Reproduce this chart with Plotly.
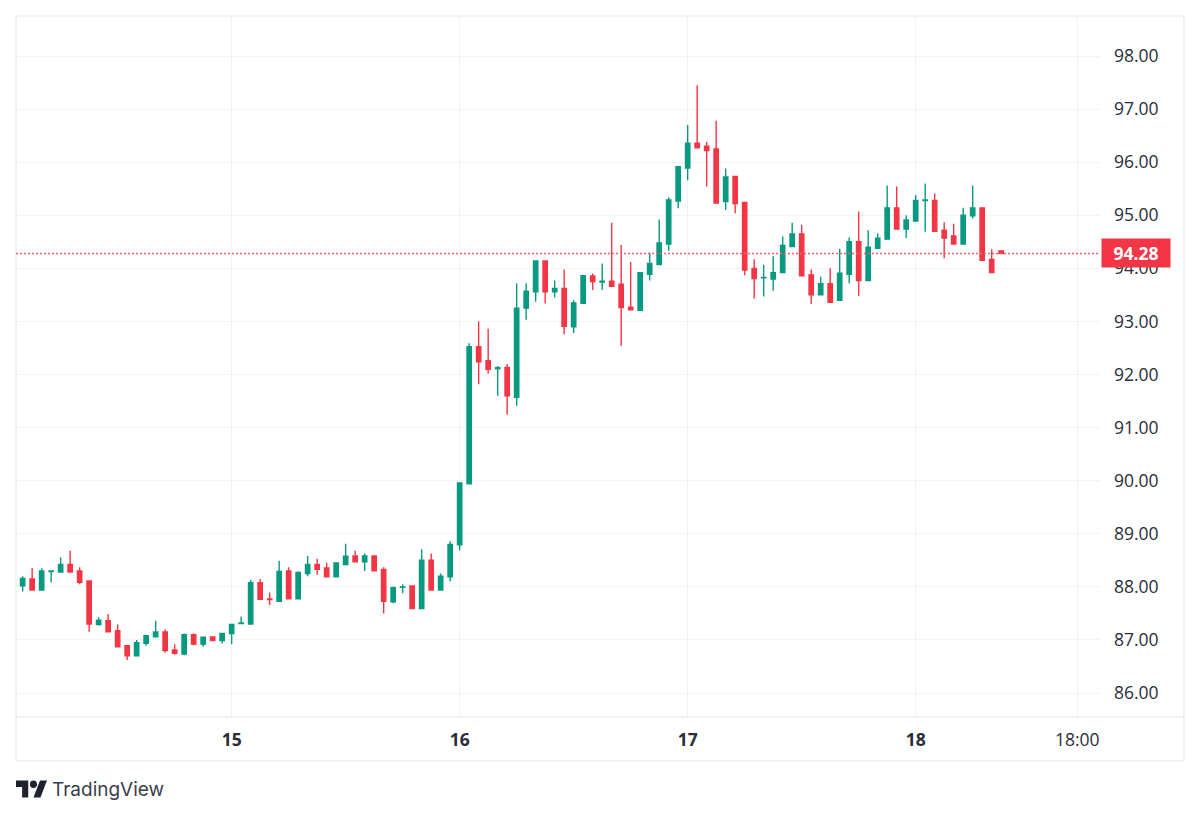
import plotly.graph_objects as go

# Hourly bars, oldest first: 14th 02:00 through 18th 09:00 (candle index on the x axis)
open_prices = [
    88.02, 88.15, 87.94, 88.29, 88.28, 88.42, 88.30, 88.11, 87.29, 87.36, 87.175, 86.89, 86.70,
    86.935, 87.06, 87.15, 86.81, 86.735, 87.10, 86.92, 87.055, 86.99, 87.12, 87.31,
    87.30, 88.08, 87.77, 87.73, 88.30, 87.775, 88.25, 88.42, 88.355, 88.19, 88.42, 88.58, 88.47,
    88.58, 88.33, 87.72, 87.99, 88.015, 87.59, 88.50, 87.94, 88.19,
    88.79, 89.94, 92.525, 92.26, 92.11, 92.135, 91.57, 93.25, 93.56, 94.14, 93.56, 93.62, 92.90,
    93.34, 93.855, 93.74, 93.76, 93.70, 93.27, 93.21, 93.89, 94.07, 94.46, 95.27, 95.89,
    96.36, 96.30, 96.25, 95.26, 95.73, 95.24, 94.00, 93.82, 93.80, 93.92, 94.41, 94.65,
    93.875, 93.50, 93.71, 93.40, 93.89, 94.50, 93.77, 94.38, 94.55, 95.14, 94.74, 94.89,
    95.275, 95.28, 94.72, 94.61, 94.46, 94.99, 95.14, 94.17, 94.33,
]
high_prices = [
    88.20, 88.355, 88.35, 88.31, 88.556, 88.68, 88.37, 88.11, 87.425, 87.49, 87.29, 86.89, 87.00,
    87.09, 87.36, 87.20, 86.92, 87.12, 87.12, 87.06, 87.07, 87.13, 87.29, 87.44,
    88.13, 88.15, 87.895, 88.49, 88.37, 88.29, 88.58, 88.53, 88.46, 88.45, 88.81, 88.68, 88.63,
    88.58, 88.37, 88.00, 88.05, 88.03, 88.71, 88.63, 88.25, 88.86,
    89.955, 92.59, 93.00, 92.86, 92.16, 92.20, 93.72, 93.72, 94.14, 94.14, 93.77, 93.98, 93.40,
    93.875, 93.905, 94.09, 94.86, 94.44, 94.12, 93.92, 94.30, 94.92, 95.34, 95.915, 96.70,
    97.45, 96.385, 96.78, 95.88, 95.73, 95.24, 94.17, 94.07, 94.23, 94.60, 94.86, 94.82,
    93.98, 93.84, 94.00, 94.37, 94.58, 95.07, 94.72, 94.66, 95.56, 95.54, 95.00, 95.38,
    95.60, 95.41, 94.87, 94.84, 95.14, 95.56, 95.14, 94.36, 94.33,
]
low_prices = [
    87.91, 87.94, 87.94, 88.08, 88.28, 88.28, 88.05, 87.155, 87.27, 87.155, 86.87, 86.62, 86.70,
    86.89, 87.06, 86.76, 86.72, 86.71, 86.90, 86.87, 86.99, 86.935, 86.92, 87.31,
    87.30, 87.76, 87.66, 87.73, 87.775, 87.775, 88.20, 88.23, 88.19, 88.19, 88.42, 88.47, 88.30,
    88.30, 87.50, 87.69, 87.88, 87.59, 87.59, 87.94, 87.94, 88.10,
    88.69, 89.94, 91.815, 92.02, 91.60, 91.24, 91.41, 93.03, 93.37, 93.34, 93.45, 92.76, 92.78,
    93.34, 93.59, 93.59, 93.66, 92.54, 93.22, 93.21, 93.77, 94.07, 94.33, 95.13, 95.66,
    96.27, 95.54, 95.23, 95.10, 95.04, 93.87, 93.43, 93.47, 93.58, 93.92, 94.41, 93.86,
    93.33, 93.50, 93.36, 93.40, 93.72, 93.48, 93.77, 94.38, 94.55, 94.74, 94.57, 94.89,
    94.69, 94.70, 94.19, 94.46, 94.46, 94.94, 94.15, 93.92, 94.28,
]
close_prices = [
    88.16, 87.94, 88.30, 88.30, 88.42, 88.28, 88.085, 87.30, 87.37, 87.155, 86.87, 86.70, 86.95,
    87.08, 87.15, 86.80, 86.75, 87.10, 86.92, 87.05, 86.99, 87.12, 87.29, 87.32,
    88.08, 87.765, 87.76, 88.29, 87.775, 88.27, 88.42, 88.33, 88.19, 88.45, 88.575, 88.47, 88.58,
    88.30, 87.73, 87.985, 88.00, 87.59, 88.50, 87.94, 88.20, 88.80,
    89.955, 92.525, 92.24, 92.10, 92.13, 91.60, 93.25, 93.57, 94.14, 93.56, 93.62, 92.91, 93.35,
    93.86, 93.75, 93.76, 93.66, 93.26, 93.22, 93.92, 94.09, 94.48, 95.29, 95.915, 96.36,
    96.27, 96.22, 95.23, 95.72, 95.22, 93.97, 93.81, 93.83, 93.92, 94.43, 94.65, 93.86,
    93.50, 93.71, 93.36, 93.91, 94.50, 93.77, 94.40, 94.57, 95.14, 94.74, 94.91, 95.28,
    95.29, 94.70, 94.57, 94.46, 95.00, 95.14, 94.15, 93.92, 94.28,
]
last_price = 94.28
price_ticks = [86, 87, 88, 89, 90, 91, 92, 93, 94, 95, 96, 97, 98]
time_ticks = [22, 46, 70, 94, 111]
time_labels = ["<b>15</b>", "<b>16</b>", "<b>17</b>", "<b>18</b>", "18:00"]

UP = "#089981"
DOWN = "#F23645"
FRAME = "#E6E6E6"
GRID = "#F3F3F3"
TEXT = "#2A2E39"
W, H = 1200, 817
L, R, T, B = 16, 100, 16, 100
plot_w, plot_h = W - L - R, H - T - B


def px(x):
    return (x - L) / plot_w


def py(y):
    return (H - B - y) / plot_h


fig = go.Figure(
    go.Candlestick(
        x=list(range(len(open_prices))),
        open=open_prices,
        high=high_prices,
        low=low_prices,
        close=close_prices,
        increasing=dict(line=dict(color=UP, width=1.4), fillcolor=UP),
        decreasing=dict(line=dict(color=DOWN, width=1.4), fillcolor=DOWN),
        whiskerwidth=0,
        showlegend=False,
    )
)


def frame_line(x0, y0, x1, y1):
    return dict(type="line", xref="paper", yref="paper", x0=px(x0), y0=py(y0), x1=px(x1), y1=py(y1),
                line=dict(color=FRAME, width=1), layer="below")


# Logo glyph, laid out in its own 36x18 box and placed beside the wordmark
def lx(v):
    return px(16 + v * 31 / 35.5)


def ly(v):
    return py(780.5 + (v - 4) * 17 / 18)


def poly(points):
    return "M " + " L ".join(f"{lx(a):.5f} {ly(b):.5f}" for a, b in points) + " Z"


logo = [
    dict(type="path", xref="paper", yref="paper", line=dict(width=0), fillcolor="#1E222D",
         path=poly([(0, 4), (14, 4), (14, 22), (7, 22), (7, 11), (0, 11)])),
    dict(type="path", xref="paper", yref="paper", line=dict(width=0), fillcolor="#1E222D",
         path=poly([(27.5, 4), (35.5, 4), (28, 22), (20, 22)])),
    dict(type="circle", xref="paper", yref="paper", line=dict(width=0), fillcolor="#1E222D",
         x0=lx(16), x1=lx(24), y0=ly(12), y1=ly(4)),
]

shapes = [
    frame_line(16, 16, 1184, 16),
    frame_line(16, 16, 16, 761),
    frame_line(1184, 16, 1184, 761),
    frame_line(16, 761, 1184, 761),
    frame_line(16, 717, 1184, 717),
    dict(type="line", xref="paper", yref="y", x0=0, x1=1, y0=last_price, y1=last_price,
         line=dict(color="#F4606E", width=1.5, dash="2px,2px")),
] + logo

fig.update_layout(
    width=W,
    height=H,
    margin=dict(l=L, r=R, t=T, b=B, pad=0),
    paper_bgcolor="white",
    plot_bgcolor="white",
    boxgap=0.35,
    font=dict(family="Open Sans, sans-serif", color=TEXT),
    shapes=shapes,
    annotations=[
        dict(xref="paper", yref="y", x=px(1101), y=last_price, xanchor="left", yanchor="middle",
             text=f"<b>{last_price:.2f}</b>", showarrow=False, align="center", width=68, height=28,
             bgcolor=DOWN, borderpad=0, font=dict(color="white", size=17.5, family="Open Sans, sans-serif")),
        dict(xref="paper", yref="paper", x=px(50), y=py(789), xanchor="left", yanchor="middle",
             text="TradingView", showarrow=False, font=dict(color="#3A3E4A", size=19, family="Inter, sans-serif")),
    ],
    xaxis=dict(
        range=[-0.7, 113.4],
        rangeslider=dict(visible=False),
        tickmode="array",
        tickvals=time_ticks,
        ticktext=time_labels,
        showgrid=True,
        gridcolor=GRID,
        gridwidth=1,
        zeroline=False,
        showline=False,
        ticks="",
        ticklabelstandoff=10,
        tickfont=dict(size=17.5, color=TEXT),
    ),
    yaxis=dict(
        side="right",
        range=[85.548, 98.754],
        tickmode="array",
        tickvals=price_ticks,
        tickformat=".2f",
        showgrid=True,
        gridcolor=GRID,
        gridwidth=1,
        zeroline=False,
        showline=False,
        ticks="",
        ticklabelstandoff=13,
        tickfont=dict(size=17.5, color=TEXT),
    ),
)

fig.write_html("out.html")
